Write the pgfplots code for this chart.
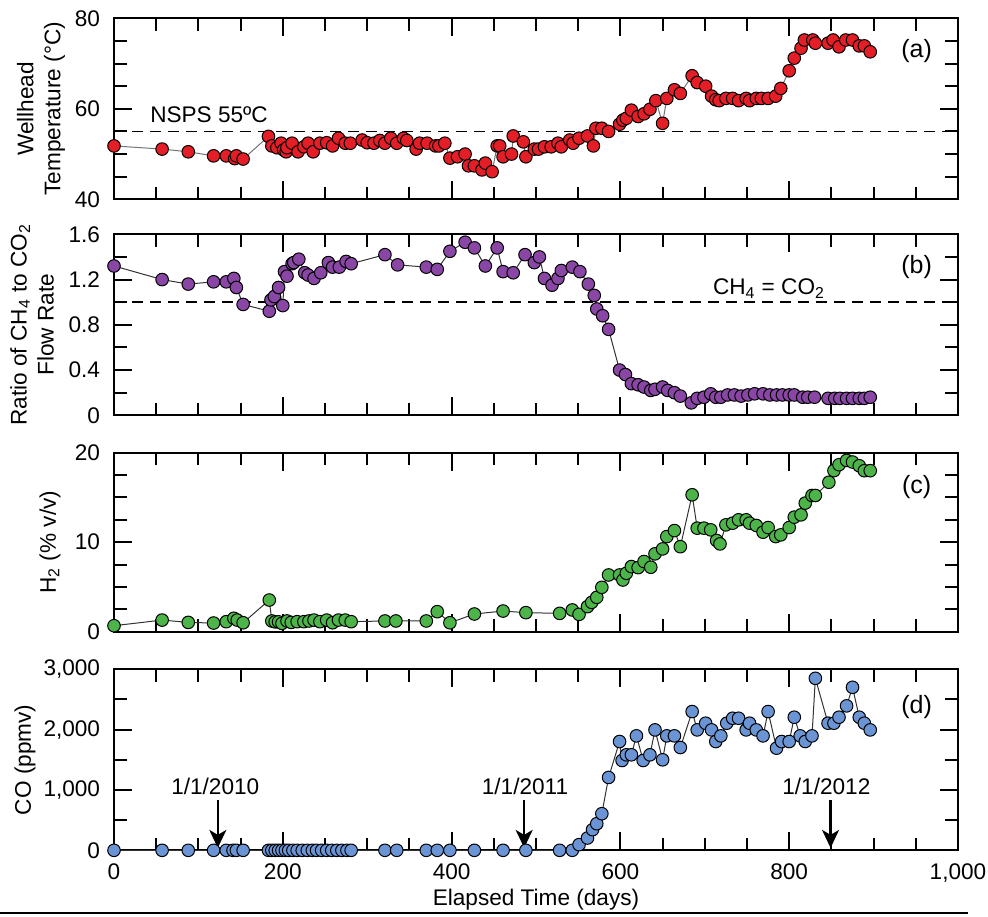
\documentclass[border=0pt]{standalone}
\usepackage{fontspec}
\setmainfont{Liberation Sans}
\usepackage{pgfplots}
\pgfplotsset{compat=1.18}
\usetikzlibrary{arrows.meta}
\definecolor{cred}{RGB}{228,30,38}
\definecolor{cpurple}{RGB}{137,70,165}
\definecolor{cgreen}{RGB}{76,180,72}
\definecolor{cblue}{RGB}{106,148,212}
\pgfplotsset{
 panel/.style={
  scale only axis, width=422pt, height=90.5pt, xmin=0, xmax=1000,
  xtick={0,200,...,1000}, minor x tick num=3,
  major tick length=9pt, minor tick length=6.3pt,
  axis line style={line width=1.1pt},
  tick style={black, line width=1pt},
  tick label style={font=\fontsize{11.3}{13}\selectfont},
  label style={font=\fontsize{11.3}{13.5}\selectfont},
  /pgf/number format/assume math mode=true,
  /pgf/number format/1000 sep={,},
  clip=false,
  xticklabels={},
  yticklabel style={xshift=-3pt},
  xticklabel style={yshift=-2.5pt},
 },
 ser/.style={line width=0.5pt, black!80, mark=*, mark size=3.15pt,
   mark options={draw=black, line width=0.5pt, fill=#1}},
 dash/.style={black, line width=0.9pt, dash pattern=on 5.5pt off 3.5pt, no marks},
}
\tikzset{arr/.style={line width=1.1pt, -{Stealth[length=9pt, width=8.5pt, inset=2.5pt]}}}
\begin{document}
\fontsize{11.3}{13}\selectfont
\begin{tikzpicture}
\path[use as bounding box] (-57pt,9.15pt) rectangle (437pt,-448.85pt);
\draw[line width=0.75pt] (-57pt,-447.4pt) -- (427pt,-447.4pt);
% (a)
\begin{axis}[panel, at={(0pt,0pt)}, anchor=north west,
  ymin=40, ymax=80, ytick={40,60,80}, minor y tick num=3,
  ylabel={Wellhead\\Temperature (°C)},
  ylabel style={at={(axis description cs:-0.0865,0.5)}, anchor=center, align=center}]
\addplot[dash] coordinates {(0,55) (1000,55)};
\addplot[ser=cred, black!55] coordinates {
(0,51.8) (57,51.1) (88,50.5) (118,49.6) (133,49.6) (143,49.0) (145,49.6) (153,48.9)
(183,53.9) (187,51.8) (193,51.4) (198,52.4) (201,50.9) (204,50.5) (205,51.4) (211,52.4)
(218,50.5) (225,51.6) (230,52.4) (236,50.5) (244,52.4) (252,52.5) (259,51.8) (266,53.5)
(274,52.4) (280,52.4) (294,53.1) (300,52.5) (308,52.4) (315,53.0) (321,52.4) (328,53.5)
(335,52.4) (343,53.5) (347,53.0) (358,51.1) (362,52.4) (371,52.4) (381,51.8) (385,51.8)
(392,52.4) (398,49.1) (407,49.4) (416,50.0) (420,47.4) (427,47.4) (436,46.5) (440,48.0)
(448,46.1) (454,51.8) (457,51.8) (461,49.4) (471,50.0) (473,54.0) (485,52.7) (488,49.4)
(498,51.1) (503,51.1) (510,51.6) (518,51.6) (526,52.4) (530,51.6) (540,53.1) (544,52.4)
(551,53.5) (561,54.0) (568,51.8) (571,55.7) (578,55.7) (586,55.0) (599,56.6) (603,57.5)
(607,57.9) (613,59.7) (621,58.3) (628,58.9) (635,59.9) (642,61.8) (650,56.8) (655,62.3)
(664,64.2) (671,63.4) (685,67.3) (691,65.8) (701,65.0) (708,62.8) (713,62.0) (717,61.8)
(725,62.3) (733,62.3) (740,61.8) (749,62.3) (753,61.8) (761,62.3) (767,62.3) (775,62.3)
(784,62.8) (790,64.5) (800,68.4) (806,71.2) (814,73.4) (818,75.2) (828,75.2) (831,74.5)
(846,74.5) (852,75.2) (859,73.7) (867,75.2) (875,75.2) (883,73.9) (889,73.9) (896,72.6)};
\node[font=\fontsize{11.3}{13}\selectfont] at (axis cs:112.6,58.6) {NSPS 55ºC};
\node[font=\fontsize{12.5}{14}\selectfont] at (axis cs:951,72.8) {(a)};
\end{axis}
% (b)
\begin{axis}[panel, at={(0pt,-108pt)}, anchor=north west,
  ymin=0, ymax=1.6, ytick={0,0.4,0.8,1.2,1.6}, yticklabels={0,0.4,0.8,1.2,1.6}, minor y tick num=1,
  ylabel={Ratio of CH\textsubscript{4} to CO\textsubscript{2}\\Flow Rate},
  ylabel style={at={(axis description cs:-0.0972,0.5)}, anchor=center, align=center}]
\addplot[dash] coordinates {(0,1) (1000,1)};
\addplot[ser=cpurple] coordinates {
(0,1.32) (57,1.20) (88,1.16) (118,1.18) (133,1.18) (142,1.21) (145,1.13) (153,0.98)
(184,0.92) (186,1.02) (190,1.05) (195,1.13) (200,0.97) (202,1.27) (205,1.23) (211,1.34)
(213,1.35) (219,1.38) (226,1.26) (230,1.24) (237,1.21) (245,1.26) (254,1.35) (259,1.31)
(267,1.31) (275,1.36) (281,1.34) (321,1.42) (336,1.33) (370,1.31) (383,1.29) (398,1.45)
(416,1.53) (427,1.48) (440,1.32) (454,1.48) (461,1.27) (473,1.26) (487,1.42) (498,1.35)
(504,1.40) (510,1.21) (519,1.15) (526,1.21) (530,1.28) (543,1.31) (552,1.27) (562,1.16)
(569,1.06) (572,0.94) (579,0.88) (586,0.76) (599,0.40) (606,0.36) (613,0.28) (621,0.27)
(628,0.25) (636,0.22) (641,0.23) (650,0.25) (656,0.22) (664,0.20) (671,0.17) (684,0.11)
(691,0.15) (699,0.16) (707,0.19) (713,0.16) (719,0.16) (727,0.18) (735,0.18) (743,0.17)
(751,0.18) (759,0.19) (769,0.19) (777,0.18) (785,0.18) (792,0.18) (800,0.18) (806,0.18)
(816,0.16) (822,0.16) (830,0.16) (846,0.15) (854,0.15) (860,0.15) (868,0.15) (875,0.15)
(883,0.15) (889,0.15) (896,0.16)};
\node[font=\fontsize{11.3}{13}\selectfont] at (axis cs:776,1.12) {CH\textsubscript{4} = CO\textsubscript{2}};
\node[font=\fontsize{12.5}{14}\selectfont] at (axis cs:951,1.31) {(b)};
\end{axis}
% (c)
\begin{axis}[panel, at={(0pt,-217.2pt)}, anchor=north west, height=89.5pt,
  ymin=0, ymax=20, ytick={0,10,20}, minor y tick num=3,
  ylabel={H\textsubscript{2} (\% v/v)},
  ylabel style={at={(axis description cs:-0.0758,0.5)}, anchor=center, align=center}]
\addplot[ser=cgreen] coordinates {
(0,0.67) (57,1.3) (88,1.04) (118,0.97) (133,1.12) (142,1.5) (146,1.3) (153,1.0)
(184,3.54) (187,1.2) (191,1.1) (195,1.1) (199,0.93) (205,1.2) (210,1.04) (217,1.12)
(225,1.12) (231,1.2) (237,1.3) (244,1.12) (252,1.3) (259,1.0) (266,1.3) (274,1.3)
(281,1.12) (321,1.2) (334,1.2) (370,1.2) (383,2.24) (398,1.0) (427,1.98) (461,2.31)
(488,2.13) (528,2.05) (543,2.43) (551,1.94) (561,2.8) (566,3.28) (572,3.84) (578,4.96)
(586,6.34) (599,6.34) (603,5.78) (607,6.53) (613,7.28) (621,7.16) (628,7.84) (636,7.2)
(641,8.7) (650,9.25) (655,10.63) (664,11.3) (671,9.5) (685,15.3) (691,11.57) (699,11.57)
(707,11.38) (714,10.19) (718,9.81) (725,11.94) (733,12.13) (740,12.5) (749,12.5) (753,12.13)
(761,11.87) (769,11.12) (775,11.64) (784,10.63) (790,10.82) (800,11.64) (806,12.8) (814,13.06)
(819,14.37) (827,15.22) (831,15.22) (847,16.7) (853,18.0) (859,18.66) (868,19.14) (875,18.96)
(883,18.54) (889,17.99) (896,17.99)};
\node[font=\fontsize{12.5}{14}\selectfont] at (axis cs:951,16.2) {(c)};
\end{axis}
% (d)
\begin{axis}[panel, at={(0pt,-325.5pt)}, anchor=north west,
  ymin=0, ymax=3000, ytick={0,1000,2000,3000}, yticklabels={0,{1,000},{2,000},{3,000}}, minor y tick num=1,
  xticklabels={0,200,400,600,800,{1,000}},
  ylabel={CO (ppmv)},
  ylabel style={at={(axis description cs:-0.1055,0.5)}, anchor=center, align=center},
  xlabel={Elapsed Time (days)},
  xlabel style={at={(axis description cs:0.5,-0.272)}, anchor=center}]
\addplot[ser=cblue] coordinates {
(0,0) (57,0) (88,0) (118,0) (133,0) (141,0) (145,0) (153,0) (183,0) (187,0) (191,0)
(195,0) (199,0) (203,0) (207,0) (212,0) (217,0) (223,0) (229,0) (235,0) (240,0) (246,0)
(252,0) (258,0) (264,0) (270,0) (276,0) (281,0) (321,0) (335,0) (370,0) (383,0) (398,0)
(427,0) (461,0) (488,0) (528,0) (543,0)
(551,94) (561,204) (567,342) (572,441) (578,607) (586,1208) (599,1803) (602,1489)
(607,1583) (613,1583) (619,1897) (627,1489) (635,1583) (641,1996) (650,1500) (655,1897)
(664,1897) (671,1704) (685,2300) (691,1996) (701,2107) (708,1996) (713,1803) (719,1897)
(726,2107) (733,2189) (740,2189) (749,1996) (753,2107) (761,1996) (769,1897) (775,2300)
(785,1693) (791,1803) (800,1803) (806,2206) (813,1897) (819,1803) (827,1897) (831,2851)
(846,2107) (853,2107) (859,2206) (868,2394) (875,2702) (883,2206) (889,2107) (896,1996)};
\draw[arr] (axis cs:123,830) -- (axis cs:123,40);
\draw[arr] (axis cs:486,830) -- (axis cs:486,40);
\draw[arr] (axis cs:849,830) -- (axis cs:849,40);
\node[font=\fontsize{11.3}{13}\selectfont] at (axis cs:120,1060) {1/1/2010};
\node[font=\fontsize{11.3}{13}\selectfont] at (axis cs:487,1060) {1/1/2011};
\node[font=\fontsize{11.3}{13}\selectfont] at (axis cs:844,1060) {1/1/2012};
\node[font=\fontsize{12.5}{14}\selectfont] at (axis cs:951,2382) {(d)};
\end{axis}
\end{tikzpicture}
\end{document}
